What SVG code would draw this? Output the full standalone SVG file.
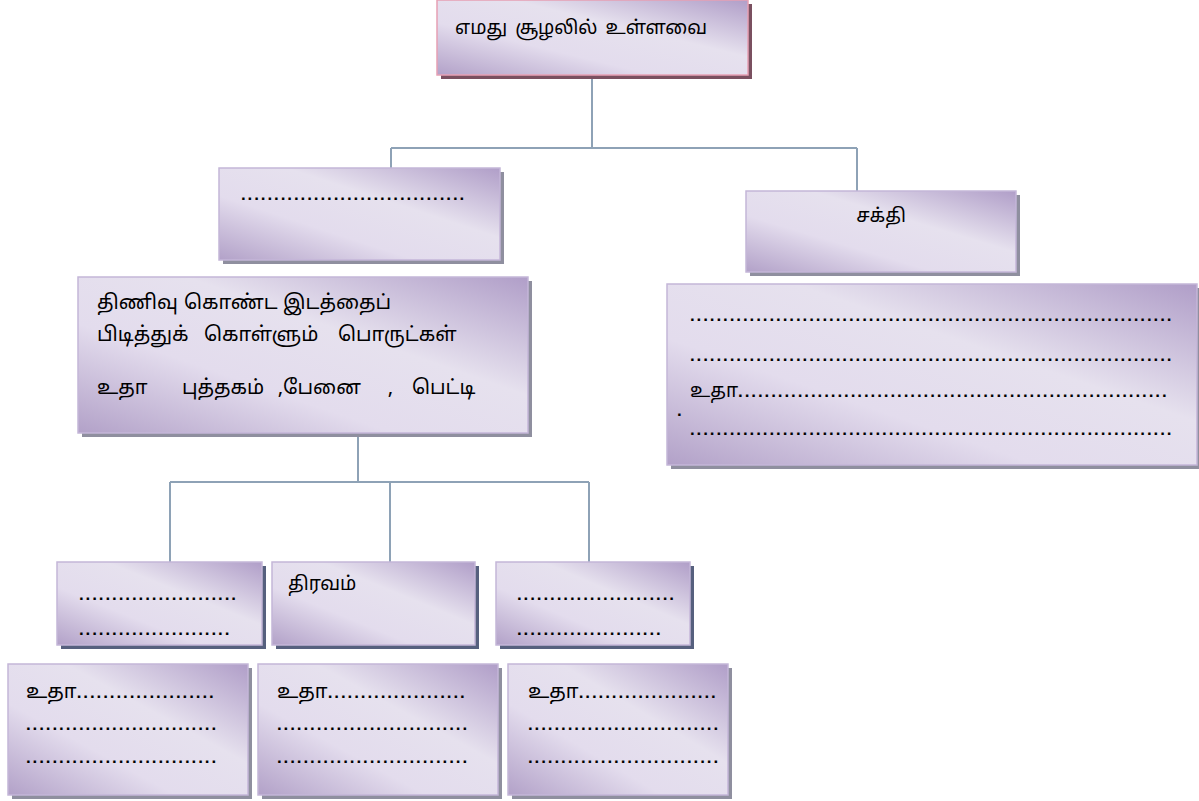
<svg xmlns="http://www.w3.org/2000/svg" width="1199" height="801" viewBox="0 0 1199 801">
<defs>
<linearGradient id="g" x1="0" y1="1" x2="1" y2="0">
<stop offset="0" stop-color="#b2a1c8"/>
<stop offset="0.35" stop-color="#e3dced"/>
<stop offset="0.62" stop-color="#e6e1ee"/>
<stop offset="1" stop-color="#b09ec8"/>
</linearGradient>
<style>
.box{fill:url(#g);stroke:#c4b6d8;stroke-width:1.5}
.top{fill:url(#g);stroke:#e6a0b4;stroke-width:1.5}
.sh{fill:#8f8f9f}
.sh2{fill:#56607e}
.sht{fill:#7a5060}
.t{font-family:"Noto Sans Tamil","Latha","Noto Sans","DejaVu Sans",sans-serif;font-size:19px;fill:#000}
.tb{font-size:20px}
.d{font-family:"Liberation Sans",Arial,sans-serif;font-size:17px;font-weight:bold;letter-spacing:1.9px;fill:#000}
.c{fill:none;stroke:#8ea2b6;stroke-width:2}
</style>
</defs>
<rect width="1199" height="801" fill="#fff"/>
<g id="connectors">
<path class="c" d="M592 75V148M391 148H857M391 148V168M857 148V191"/>
<path class="c" d="M358 437V482M170 482H589M170 482V562M390 482V562M589 482V562"/>
</g>
<g id="n-top">
<rect class="sht" x="441" y="4" width="311" height="75"/>
<rect class="top" x="437" y="0" width="311" height="75"/>
<text class="t" x="455" y="34" word-spacing="3">எமது சூழலில் உள்ளவை</text>
</g>
<g id="n-a">
<rect class="sh" x="223" y="172" width="281" height="92"/>
<rect class="box" x="219" y="168" width="281" height="92"/>
<text class="d" x="241" y="200">..................................</text>
</g>
<g id="n-sakthi">
<rect class="sh" x="750" y="195" width="270" height="81"/>
<rect class="box" x="746" y="191" width="270" height="81"/>
<text class="t" x="881" y="222" text-anchor="middle">சக்தி</text>
</g>
<g id="n-matter">
<rect class="sh" x="82" y="281" width="450" height="156"/>
<rect class="box" x="78" y="277" width="450" height="156"/>
<text class="t tb" y="309"><tspan x="97">திணிவு</tspan><tspan x="184">கொண்ட</tspan><tspan x="283">இடத்தைப்</tspan></text>
<text class="t tb" y="341"><tspan x="97">பிடித்துக்</tspan><tspan x="204">கொள்ளும்</tspan><tspan x="338">பொருட்கள்</tspan></text>
<text class="t tb" y="394"><tspan x="97">உதா</tspan><tspan x="182">புத்தகம்</tspan><tspan x="278">,பேனை</tspan><tspan x="388">,</tspan><tspan x="412">பெட்டி</tspan></text>
</g>
<g id="n-energy">
<rect class="sh" x="671" y="288" width="530" height="181"/>
<rect class="box" x="667" y="284" width="530" height="181"/>
<text class="d" x="690" y="321">.........................................................................</text>
<text class="d" x="690" y="361">.........................................................................</text>
<text class="t" x="690" y="397">உதா<tspan class="d">.................................................................</tspan></text>
<text class="d" x="677" y="416">.</text>
<text class="d" x="690" y="435">.........................................................................</text>
</g>
<g id="n-solid">
<rect class="sh2" x="61" y="566" width="205" height="83"/>
<rect class="box" x="57" y="562" width="205" height="83"/>
<text class="d" x="79" y="600">........................</text>
<text class="d" x="79" y="635">.......................</text>
</g>
<g id="n-liquid">
<rect class="sh2" x="276" y="566" width="203" height="83"/>
<rect class="box" x="272" y="562" width="203" height="83"/>
<text class="t" x="288" y="590">திரவம்</text>
</g>
<g id="n-gas">
<rect class="sh2" x="500" y="566" width="194" height="83"/>
<rect class="box" x="496" y="562" width="194" height="83"/>
<text class="d" x="517" y="600">........................</text>
<text class="d" x="517" y="635">......................</text>
</g>
<g id="n-ex1">
<rect class="sh" x="12" y="668" width="240" height="131"/>
<rect class="box" x="8" y="664" width="240" height="131"/>
<text class="t tb" x="26" y="698">உதா<tspan class="d">.....................</tspan></text>
<text class="d" x="26" y="730">.............................</text>
<text class="d" x="26" y="763">.............................</text>
</g>
<g id="n-ex2">
<rect class="sh" x="262" y="668" width="240" height="131"/>
<rect class="box" x="258" y="664" width="240" height="131"/>
<text class="t tb" x="277" y="698">உதா<tspan class="d">.....................</tspan></text>
<text class="d" x="277" y="730">.............................</text>
<text class="d" x="277" y="763">.............................</text>
</g>
<g id="n-ex3">
<rect class="sh" x="512" y="668" width="220" height="131"/>
<rect class="box" x="508" y="664" width="220" height="131"/>
<text class="t tb" x="528" y="698">உதா<tspan class="d">.....................</tspan></text>
<text class="d" x="528" y="730">.............................</text>
<text class="d" x="528" y="763">.............................</text>
</g>
</svg>
